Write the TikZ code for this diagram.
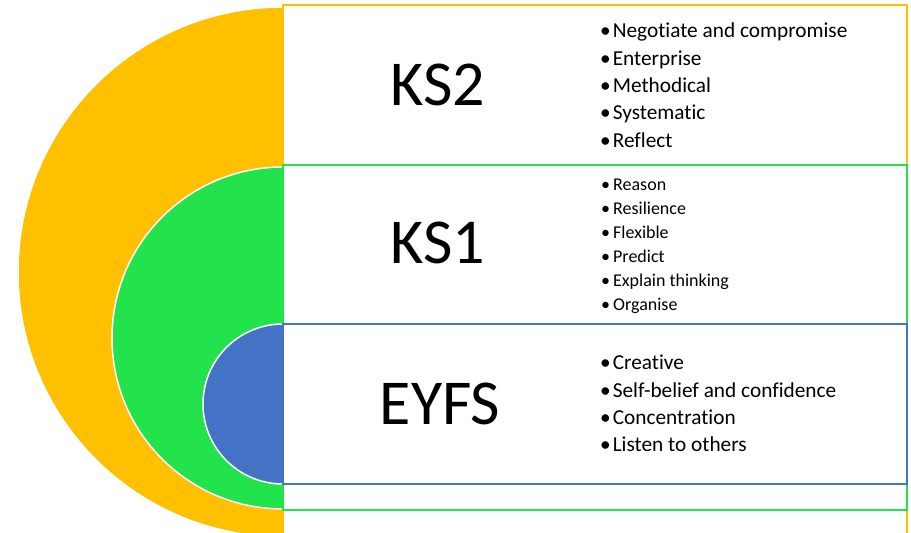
\documentclass[tikz,border=0pt]{standalone}
\usepackage{fontspec}
\setmainfont[Ligatures={NoCommon}]{Carlito}
\definecolor{ksorange}{HTML}{FFC000}
\definecolor{ksgreen}{HTML}{22E34C}
\definecolor{ksblue}{HTML}{4472C4}
\tikzset{
  semi/.style={line width=1.5pt, draw=white},
  panel/.style={fill=white, line width=2.2pt},
  bigtitle/.style={font=\fontsize{64}{66}\selectfont, anchor=base, inner sep=0pt},
  bigitem/.style={font=\fontsize{21.3}{24}\selectfont, anchor=base west, inner sep=0pt},
  smallitem/.style={font=\fontsize{18}{20}\selectfont, anchor=base west, inner sep=0pt}
}
\begin{document}
\begin{tikzpicture}[x=1pt,y=1pt]
\useasboundingbox (0,0) rectangle (911,533);
\clip (0,0) rectangle (911,533);
% orange
\fill[ksorange, semi] (283,526) arc[start angle=90, end angle=270, radius=265] -- cycle;
\draw[panel, draw=ksorange] (283,528) rectangle (907,-10);
% green
\fill[ksgreen, semi] (283,366) arc[start angle=90, end angle=270, radius=171] -- cycle;
\draw[panel, draw=ksgreen] (283,368) rectangle (907,23);
% blue
\fill[ksblue, semi] (283,209) arc[start angle=90, end angle=270, radius=80] -- cycle;
\draw[panel, draw=ksblue] (283,209) rectangle (907,49);
% titles
\node[bigtitle] (ks2) at (438,427) {KS2};
\node[bigtitle] (ks1) at (438,269) {KS1};
\node[bigtitle] (eyfs) at (440,108) {EYFS};
% KS2 list
\foreach \t [count=\i] in {Negotiate and compromise, Enterprise, Methodical, Systematic, Reflect}
  \node[bigitem] (ksb\i) at (600, {533-38-(\i-1)*27.3}) {\textbullet\hspace{2pt}\t};
% KS1 list
\foreach \t [count=\i] in {Reason, Resilience, Flexible, Predict, Explain thinking, Organise}
  \node[smallitem] (ksa\i) at (601, {533-191-(\i-1)*24}) {\textbullet\hspace{3pt}\t};
% EYFS list
\foreach \t [count=\i] in {Creative, Self-belief and confidence, Concentration, Listen to others}
  \node[bigitem] (ey\i) at (600, {533-370-(\i-1)*27.3}) {\textbullet\hspace{2pt}\t};
\end{tikzpicture}
\end{document}
